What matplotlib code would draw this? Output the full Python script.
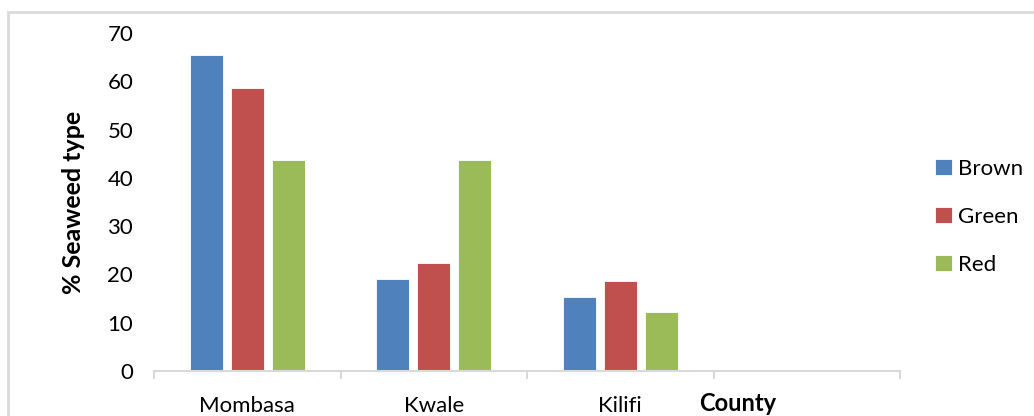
import matplotlib
matplotlib.use("Agg")
import matplotlib.pyplot as plt
from matplotlib.patches import Rectangle
import numpy as np

plt.rcParams['font.family'] = ['Lato', 'DejaVu Sans']

counties = ["Mombasa", "Kwale", "Kilifi", ""]
series = ["Brown", "Green", "Red"]
brown = [65.4, 19.0, 15.3]
green = [58.6, 22.4, 18.6]
red = [43.7, 43.7, 12.2]
colors = ["#4F81BD", "#C0504D", "#9BBB59"]

fig = plt.figure(figsize=(10.34, 4.16), dpi=100)
ax = fig.add_axes([154 / 1034, 1 - 371 / 416, 746 / 1034, 338 / 416])

# outer chart frame, runs off the right and bottom edge
fig.patches.append(Rectangle((8 / 1034, -0.1), 1.2, 1 - 12 / 416 + 0.1,
                             transform=fig.transFigure, fill=False,
                             edgecolor="#d9d9d9", linewidth=2))

width = 0.177
step = 0.22
centers = np.arange(len(brown)) + 0.5
for i, (name, vals) in enumerate(zip(series, [brown, green, red])):
    ax.bar(centers + (i - 1) * step, vals, width, color=colors[i],
           edgecolor="white", linewidth=0.6, label=name)

ax.set_xlim(0, len(counties))
ax.set_ylim(0, 70)
ax.set_yticks(range(0, 71, 10))
ax.tick_params(axis="y", length=0, pad=15, labelsize=16)

ax.set_xticks(range(len(counties) + 1))
ax.set_xticklabels([])
ax.set_xticks(np.arange(len(counties)) + 0.5, minor=True)
ax.set_xticklabels(counties, minor=True)
ax.tick_params(axis="x", which="major", length=6, color="#d9d9d9", width=1.5)
ax.tick_params(axis="x", which="minor", length=0, pad=18, labelsize=16)

for s in ["top", "right", "left"]:
    ax.spines[s].set_visible(False)
ax.spines["bottom"].set_color("#d9d9d9")
ax.spines["bottom"].set_linewidth(1.5)

ax.set_ylabel("% Seaweed type", fontsize=18, fontweight="bold", labelpad=16)
ax.set_xlabel("County", fontsize=17, fontweight="bold", va="center")
ax.xaxis.set_label_coords((738 - 154) / 746, -0.095)

ax.legend(loc="center left", bbox_to_anchor=(1.035, 0.456), frameon=False,
          fontsize=16, handlelength=0.75, handleheight=0.75, handletextpad=0.3,
          labelspacing=1.25, borderaxespad=0)

fig.savefig("out.png", dpi=100)
